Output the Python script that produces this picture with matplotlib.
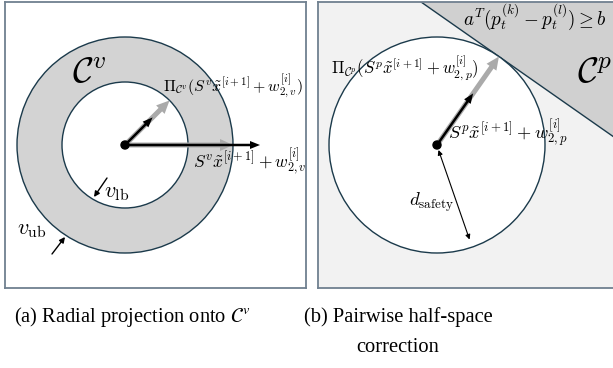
import numpy as np
import matplotlib
matplotlib.use("Agg")
import matplotlib.pyplot as plt
from matplotlib.patches import Circle, Wedge, Polygon

plt.rcParams["mathtext.fontset"] = "cm"

# geometry (pixel-like units, origin at the centre point)
r_in, r_out = 63, 108          # velocity annulus
v_short = (45, 39)             # (angle deg, length) of short velocity vector
v_long = (0, 135)              # long velocity vector
r_safe = 108                   # safety disc radius
p_angle, p_len = 55, 63        # position vector
d_angle, d_len = -71, 100      # d_safety marker

edge = "#1b3a4b"
spine = "slategray"

fig = plt.figure(figsize=(6.13, 3.68), dpi=100)
W, H = 613, 368


def panel(x0, y0, x1, y1, cx, cy):
    ax = fig.add_axes([x0 / W, 1 - y1 / H, (x1 - x0) / W, (y1 - y0) / H])
    ax.set_xlim(x0 - cx, x1 - cx)
    ax.set_ylim(cy - y1, cy - y0)
    ax.set_xticks([])
    ax.set_yticks([])
    for s in ax.spines.values():
        s.set_color(spine)
        s.set_linewidth(1.3)
    return ax


def vec(ax, ang, length, color, w, hw, hl, z):
    a = np.deg2rad(ang)
    dx, dy = length * np.cos(a), length * np.sin(a)
    ax.arrow(0, 0, dx, dy, width=w, head_width=hw, head_length=hl,
             length_includes_head=True, color=color, lw=0, zorder=z)


# ---- (a) radial projection ----
ax1 = panel(5, 2, 306, 288, 125, 145)
ax1.add_patch(Wedge((0, 0), r_out, 0, 360, width=r_out - r_in,
                    facecolor="#d3d3d3", edgecolor="none"))
ax1.add_patch(Circle((0, 0), r_out, fill=False, ec=edge, lw=1.0))
ax1.add_patch(Circle((0, 0), r_in, fill=False, ec=edge, lw=1.0))
vec(ax1, v_short[0], r_in, "#aaaaaa", 5, 12, 13, 3)
vec(ax1, v_long[0], r_out, "#aaaaaa", 5, 12, 13, 3)
vec(ax1, v_short[0], v_short[1], "black", 2.5, 8, 10, 4)
vec(ax1, v_long[0], v_long[1], "black", 2.5, 8, 10, 4)
ax1.add_patch(Circle((0, 0), 4, color="black", zorder=5))

ax1.text(-36, 72, r"$\mathcal{C}^v$", fontsize=26, ha="center", va="center")
ax1.text(38, 59, r"$\Pi_{\mathcal{C}^v}(S^v\tilde{x}^{[i+1]}+w^{[i]}_{2,v})$",
         fontsize=11.4, ha="left", va="center")
ax1.text(68, -17, r"$S^v\tilde{x}^{[i+1]}+w^{[i]}_{2,v}$",
         fontsize=12.5, ha="left", va="center")
ax1.text(-21, -48, r"$v_{\rm lb}$", fontsize=16, ha="left", va="center")
ax1.annotate("", xy=(-31, -52), xytext=(-18, -33),
             arrowprops=dict(arrowstyle="-|>", color="black", lw=1.0,
                             mutation_scale=8, shrinkA=0, shrinkB=0))
ax1.text(-108, -85, r"$v_{\rm ub}$", fontsize=16, ha="left", va="center")
ax1.annotate("", xy=(-60, -92), xytext=(-73, -109),
             arrowprops=dict(arrowstyle="-|>", color="black", lw=1.0,
                             mutation_scale=8, shrinkA=0, shrinkB=0))

# ---- (b) pairwise half-space ----
ax2 = panel(318, 2, 620, 288, 437, 145)
ax2.spines["right"].set_visible(False)
ax2.set_facecolor("#f2f2f2")
a = np.deg2rad(p_angle)
n = np.array([np.cos(a), np.sin(a)])
t = np.array([np.sin(a), -np.cos(a)])
p0 = r_safe * n
ax2.add_patch(Polygon([p0 - 600 * t, p0 + 600 * t,
                       p0 + 600 * t + 600 * n, p0 - 600 * t + 600 * n],
                      facecolor="#d0d0d0", edgecolor="none", zorder=1))
ax2.plot([p0[0] - 600 * t[0], p0[0] + 600 * t[0]],
         [p0[1] - 600 * t[1], p0[1] + 600 * t[1]], color=edge, lw=1.0, zorder=2)
ax2.add_patch(Circle((0, 0), r_safe, facecolor="white", ec=edge, lw=1.0, zorder=2))
vec(ax2, p_angle, r_safe, "#aaaaaa", 5, 12, 13, 3)
vec(ax2, p_angle, p_len, "black", 2.5, 8, 10, 4)
ax2.add_patch(Circle((0, 0), 4, color="black", zorder=5))
da = np.deg2rad(d_angle)
ax2.annotate("", xy=(d_len * np.cos(da), d_len * np.sin(da)),
             xytext=(1.5, -5),
             arrowprops=dict(arrowstyle="<|-|>", color="black", lw=0.8,
                             mutation_scale=7, shrinkA=0, shrinkB=0))

ax2.text(26, 128, r"$a^T(p_t^{(k)}-p_t^{(l)})\geq b$", fontsize=13.7,
         ha="left", va="center")
ax2.text(158, 72, r"$\mathcal{C}^p$", fontsize=26, ha="center", va="center")
ax2.text(-106, 77, r"$\Pi_{\mathcal{C}^p}(S^p\tilde{x}^{[i+1]}+w^{[i]}_{2,p})$",
         fontsize=12, ha="left", va="center", zorder=6)
ax2.text(11, 12, r"$S^p\tilde{x}^{[i+1]}+w^{[i]}_{2,p}$",
         fontsize=13.2, ha="left", va="center", zorder=6)
ax2.text(-28, -57, r"$d_{\rm safety}$", fontsize=13.5, ha="left", va="center")

# captions
cap = dict(fontsize=14.8, family="Liberation Serif", math_fontfamily="stix",
           ha="center", va="center")
fig.text(132 / W, 1 - 317 / H, r"(a) Radial projection onto $\mathcal{C}^v$", **cap)
fig.text(398 / W, 1 - 317 / H, "(b) Pairwise half-space", **cap)
fig.text(398 / W, 1 - 348 / H, "correction", **cap)

fig.savefig("out.png", dpi=100)
